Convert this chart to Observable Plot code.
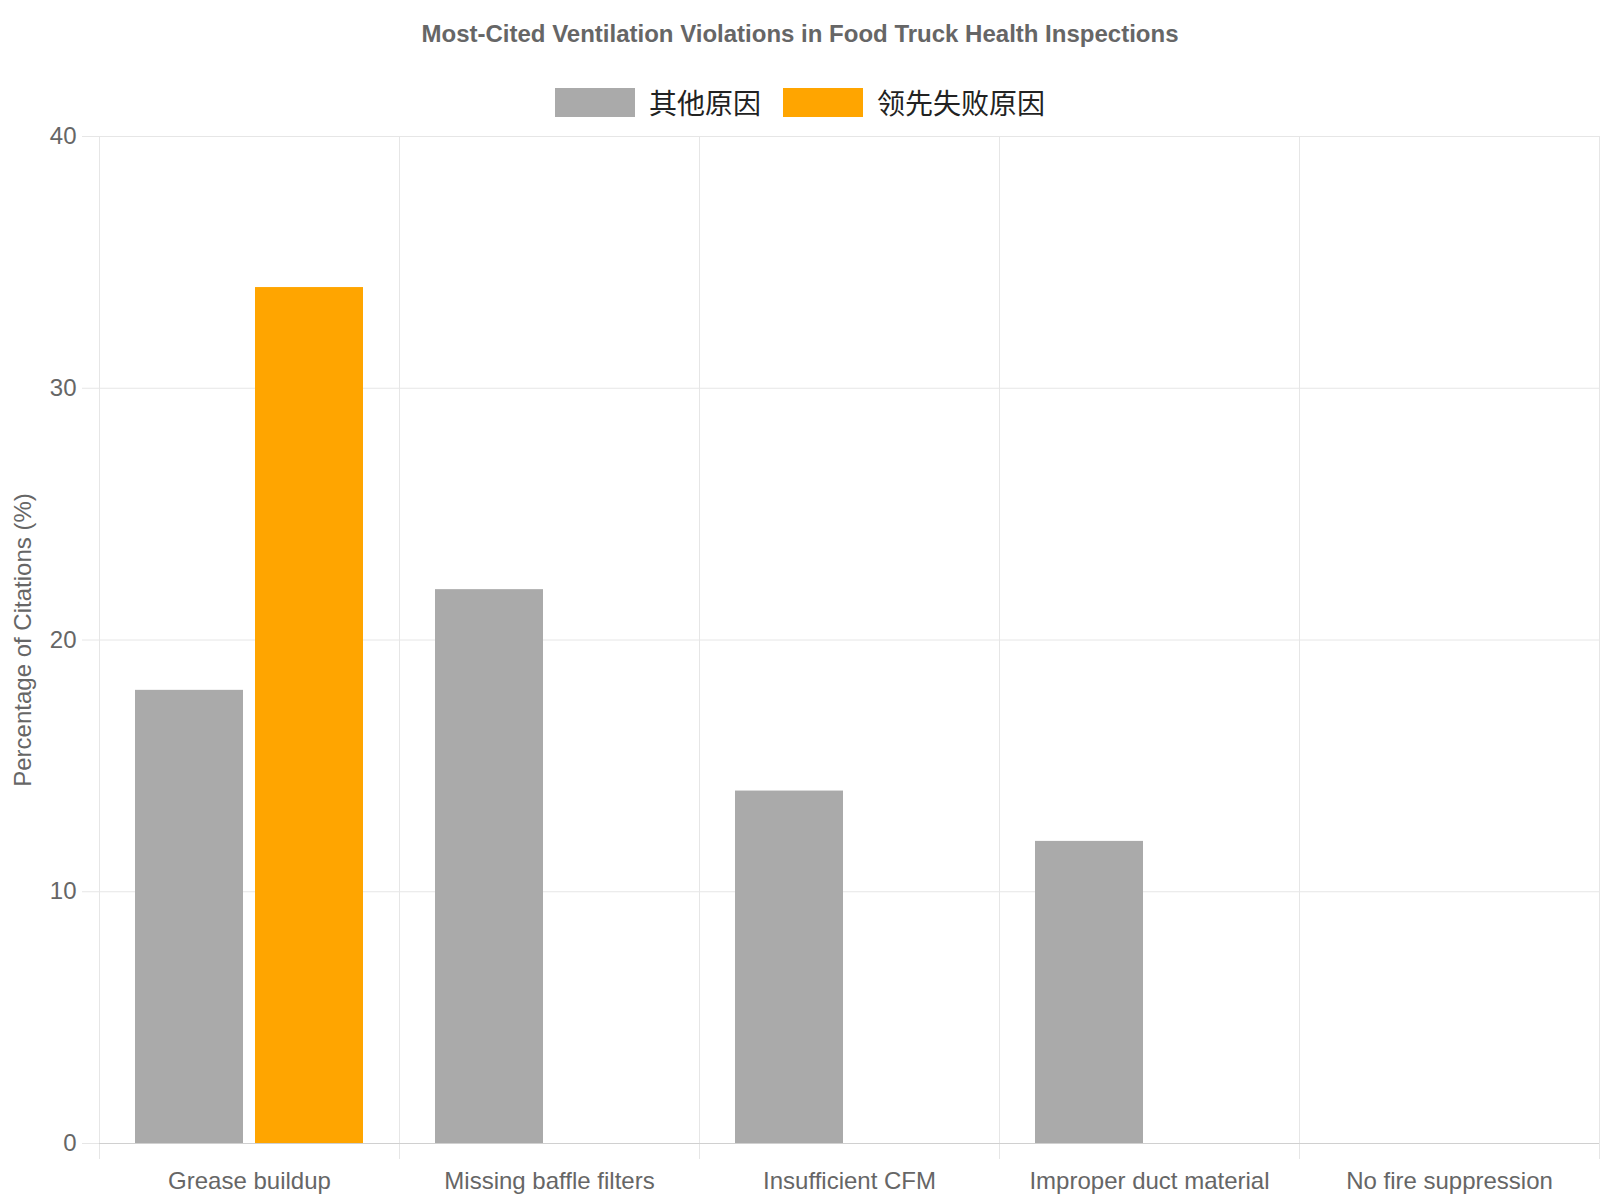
<!DOCTYPE html>
<html>
<head>
<meta charset="utf-8">
<script src="https://cdn.jsdelivr.net/npm/d3@7"></script>
<script src="https://cdn.jsdelivr.net/npm/@observablehq/plot@0.6"></script>
<style>
  body { margin: 0; background: #fff; font-family: "Liberation Sans", Arial, "Noto Sans CJK SC", sans-serif; }
  #wrap { width: 1600px; }
  #title { height: 68px; line-height: 68px; text-align: center; font-weight: bold; font-size: 24px; color: #666; }
  #legend { height: 34px; padding-top: 20px; display: flex; justify-content: center; align-items: flex-start; }
  .item { display: flex; align-items: center; height: 29px; margin: 0 11px; }
  .swatch { width: 80px; height: 29px; margin-right: 14px; }
  .lab { font-family: "Noto Sans CJK SC", sans-serif; font-size: 28px; color: #222; line-height: 29px; }
</style>
</head>
<body>
<div id="wrap">
  <div id="title">Most-Cited Ventilation Violations in Food Truck Health Inspections</div>
  <div id="legend"></div>
  <div id="chart"></div>
</div>
<script>
const categories = ["Grease buildup", "Missing baffle filters", "Insufficient CFM", "Improper duct material", "No fire suppression"];
const series = ["其他原因", "领先失败原因"];
const seriesColors = ["#aaaaaa", "#ffa500"];
const otherValues = [18, 22, 14, 12, null];
const leadingValues = [34, null, null, null, null];
const yTicks = [0, 10, 20, 30, 40];

const data = [];
categories.forEach((c, i) => {
  data.push({category: c, series: series[0], value: otherValues[i]});
  data.push({category: c, series: series[1], value: leadingValues[i]});
});

const legend = document.getElementById("legend");
series.forEach((s, i) => {
  const it = document.createElement("div");
  it.className = "item";
  it.innerHTML = `<div class="swatch" style="background:${seriesColors[i]}"></div><span class="lab">${s}</span>`;
  legend.appendChild(it);
});

const grid = "#e6e6e6";
const chart = Plot.plot({
  width: 1600,
  height: 1078,
  marginTop: 14,
  marginBottom: 57,
  marginLeft: 99,
  marginRight: 1,
  style: {fontFamily: "'Liberation Sans', Arial, sans-serif", fontSize: "24px", color: "#666", background: "#fff"},
  fx: {domain: categories, padding: 0},
  x: {domain: series, paddingInner: 0.1, paddingOuter: 0.3, axis: null},
  y: {domain: [0, 40]},
  color: {domain: series, range: seriesColors},
  marks: [
    Plot.gridY(yTicks, {stroke: grid, strokeOpacity: 1}),
    Plot.frame({anchor: "left", stroke: grid, strokeOpacity: 1, insetBottom: -15}),
    Plot.frame({anchor: "right", stroke: grid, strokeOpacity: 1, insetBottom: -15}),
    Plot.axisY(yTicks, {tickSize: 17, tickPadding: 6, stroke: grid, fill: "#666", fontSize: 24,
      label: "Percentage of Citations (%)", labelAnchor: "center", labelOffset: 86, labelArrow: "none"}),
    Plot.barY(data, {filter: d => d.value != null, fx: "category", x: "series", y: "value", fill: "series"}),
    Plot.ruleY([0], {stroke: "#d0d0d0"}),
    Plot.axisFx({anchor: "bottom", tickSize: 0, tickPadding: 28, fontSize: 24, fill: "#666", label: null})
  ]
});
document.getElementById("chart").appendChild(chart);
</script>
</body>
</html>
